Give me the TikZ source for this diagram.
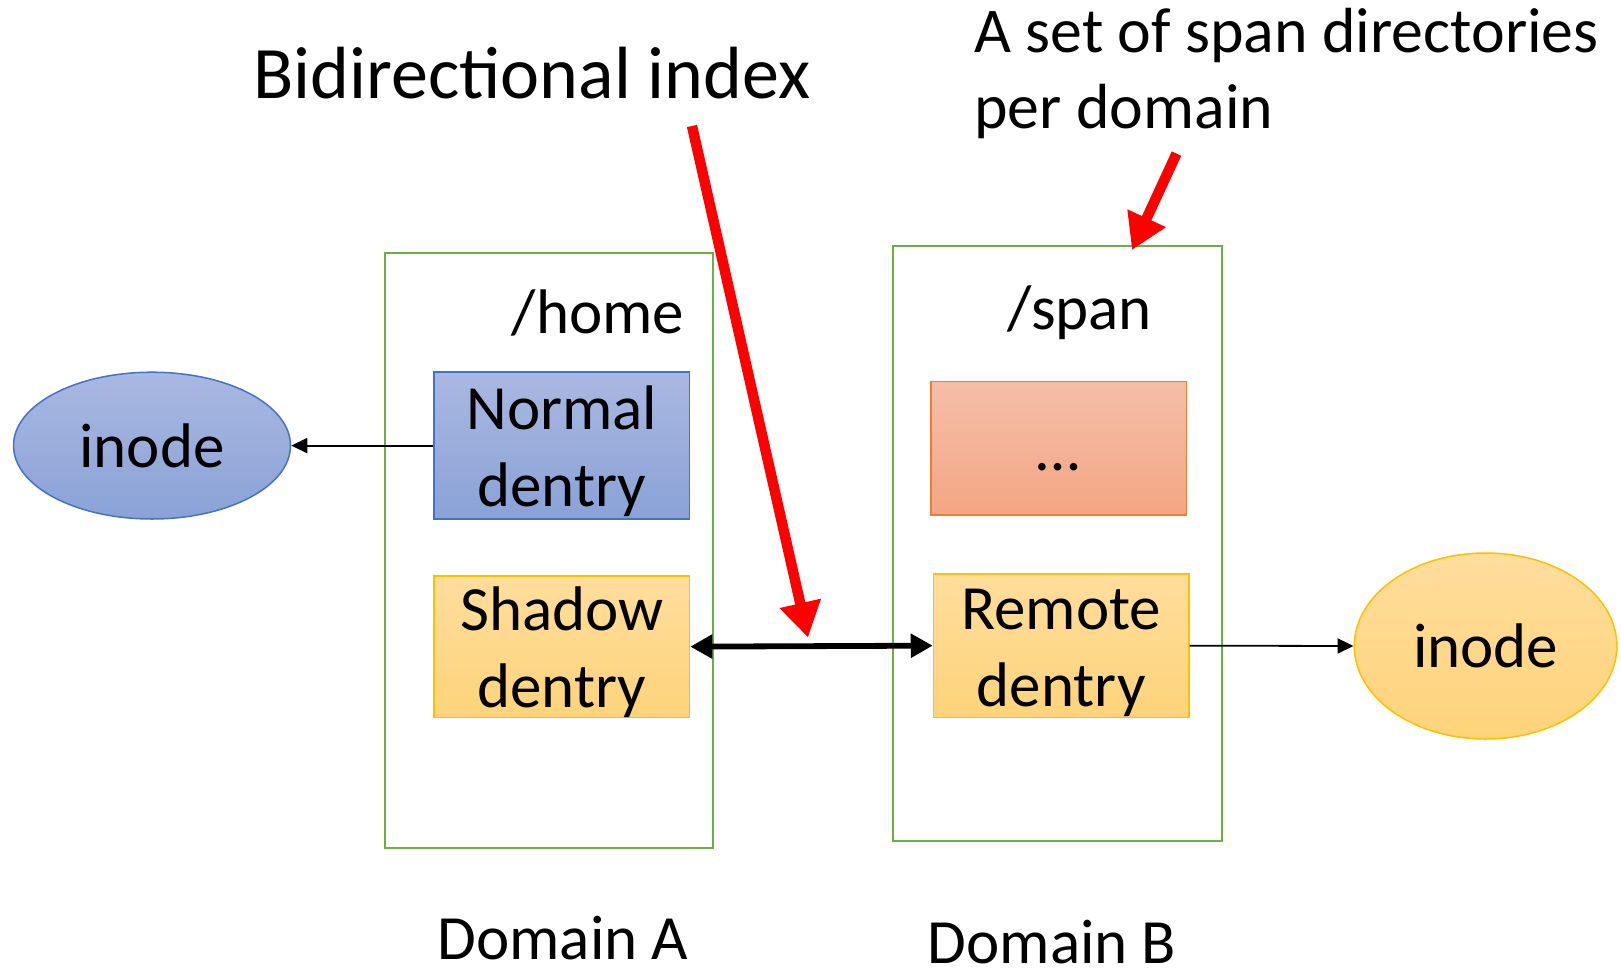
\documentclass[tikz,border=0pt]{standalone}
\usepackage{fontspec}
\setmainfont{Carlito}
\usetikzlibrary{shapes.geometric,arrows.meta}

\definecolor{domgreen}{HTML}{70AD47}
\definecolor{blueTop}{HTML}{A9B8E1}
\definecolor{blueBot}{HTML}{8AA2D7}
\definecolor{blueEdge}{HTML}{4472C4}
\definecolor{goldTop}{HTML}{FFDD9C}
\definecolor{goldBot}{HTML}{FED37A}
\definecolor{goldEdge}{HTML}{FFC000}
\definecolor{salmonTop}{HTML}{F5BEA8}
\definecolor{salmonBot}{HTML}{F4A583}
\definecolor{salmonEdge}{HTML}{ED7D31}
\definecolor{pointer}{HTML}{FF0000}

% invisible strut that sets the height of a first text line
\newcommand{\linelift}[1]{\rule{0pt}{#1}}

\begin{document}
\begin{tikzpicture}[x=0.5pt,y=-0.5pt,
  txt/.style={font=\fontsize{31.5}{38.5}\selectfont},
  domainbox/.style={draw=domgreen, line width=1pt, minimum width=164.4pt,
    minimum height=297.2pt, inner sep=0pt},
  entry/.style={txt, line width=0.75pt, minimum width=127.7pt,
    inner sep=0pt, align=center},
  bluefill/.style={top color=blueTop, bottom color=blueBot, draw=blueEdge},
  goldfill/.style={top color=goldTop, bottom color=goldBot, draw=goldEdge},
  salmonfill/.style={top color=salmonTop, bottom color=salmonBot, draw=salmonEdge},
  inodeshape/.style={txt, ellipse, line width=0.75pt, inner sep=0pt},
  lbl/.style={txt, inner sep=0pt, anchor=base},
  thinlink/.style={line width=0.9pt, -{Triangle[length=8pt,width=7.5pt]}},
  bothlink/.style={line width=2.9pt, {Triangle[length=11pt,width=11.5pt]}-{Triangle[length=11pt,width=11.5pt]}},
  redpointer/.style={pointer, line width=5.2pt, -{Triangle[length=17.5pt,width=20pt]}}
]
\useasboundingbox (0,0) rectangle (1621,969);

% the two domains
\node[domainbox] (domA) at (548.95,550.5) {};
\node[domainbox, minimum height=297.25pt] (domB) at (1057.6,543.25) {};

% directory names
\node[lbl] (home) at (598,333) {/home};
\node[lbl] (span) at (1080,329) {/span};

% dentries
\node[entry, bluefill, minimum height=73.4pt] (normal) at (561.85,445.6) {\linelift{27pt}Normal\\dentry};
\node[entry, goldfill, minimum height=70.85pt] (shadow) at (561.85,646.65) {\linelift{27pt}Shadow\\dentry};
\node[entry, salmonfill, minimum height=66.65pt] (dots) at (1058.6,448.15) {\linelift{22.4pt}…};
\node[entry, goldfill, minimum height=71.85pt] (remote) at (1061.2,645.65) {\linelift{27pt}Remote\\dentry};

% inodes
\node[inodeshape, bluefill, minimum width=138.5pt, minimum height=73.4pt] (inodeA) at (152,445.6) {inode};
\node[inodeshape, goldfill, minimum width=131.3pt, minimum height=93pt] (inodeB) at (1485.6,646) {inode};

% links
\draw[thinlink] (normal.west) -- (inodeA.east);
\draw[thinlink] (remote.east) -- (inodeB.west);
\draw[bothlink] (shadow.east) -- (remote.west);

% annotations
\node[lbl, font=\fontsize{37}{45}\selectfont] (title) at (532,98) {Bidirectional index};
\node[lbl, anchor=base west, font=\fontsize{31.9}{38.5}\selectfont] (setA) at (974,52) {A set of span directories};
\node[lbl, anchor=base west, font=\fontsize{31.9}{38.5}\selectfont] (setB) at (974,128) {per domain};

\coordinate (idxTail) at (692,126);
\coordinate (idxTip) at (808,637.5);
\coordinate (setTail) at (1176.5,153.6);
\coordinate (setTip) at (1132,250);
\draw[redpointer] (idxTail) -- (idxTip);
\draw[redpointer] (setTail) -- (setTip);

% domain captions
\node[lbl] (capA) at (563,959) {Domain A};
\node[lbl] (capB) at (1052,963.5) {Domain B};
\end{tikzpicture}
\end{document}
